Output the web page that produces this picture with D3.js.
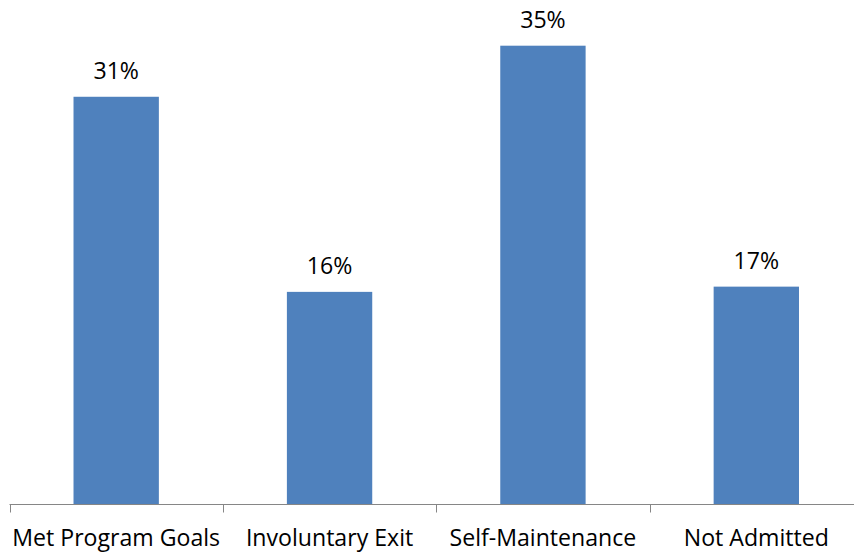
<!DOCTYPE html>
<html>
<head>
<meta charset="utf-8">
<script src="https://cdn.jsdelivr.net/npm/d3@7"></script>
<style>
  html, body { margin: 0; padding: 0; background: #fff; }
  svg { display: block; }
  text { font-family: "Open Sans", Lato, sans-serif; fill: #000; }
</style>
</head>
<body>
<svg id="chart" width="854" height="554"></svg>
<script>
const categories = ["Met Program Goals", "Involuntary Exit", "Self-Maintenance", "Not Admitted"];
const values = [31.1, 16.2, 35.0, 16.6];
const valueLabels = ["31%", "16%", "35%", "17%"];

const svg = d3.select("#chart");
const x = d3.scaleBand().domain(categories).range([9.5, 863]).paddingInner(0.6).paddingOuter(0.3);
const y = d3.scaleLinear().domain([0, 35]).range([504, 45.7]);

// fit font size so the first category label is ~208px wide, like the reference
const probe = svg.append("text").style("font-size", "20px").text(categories[0]);
const w20 = probe.node().getComputedTextLength();
probe.remove();
const fs = Math.min(24, 20 * 208 / w20);

svg.selectAll("rect.bar").data(categories).join("rect")
  .attr("class", "bar")
  .attr("x", d => x(d))
  .attr("width", x.bandwidth())
  .attr("y", (d, i) => y(values[i]))
  .attr("height", (d, i) => y(0) - y(values[i]))
  .attr("fill", "#4F81BD");

svg.selectAll("text.val").data(categories).join("text")
  .attr("class", "val")
  .attr("x", d => x(d) + x.bandwidth() / 2)
  .attr("y", (d, i) => y(values[i]) - 18)
  .attr("text-anchor", "middle")
  .style("font-size", fs + "px")
  .text((d, i) => valueLabels[i]);

// axis
const axisG = svg.append("g").attr("transform", "translate(0,504.5)");
const step = x.step();
const x0 = x.range()[0];
const tickPos = d3.range(categories.length + 1).map(i => x0 + i * step);
axisG.append("line").attr("x1", x0).attr("x2", 863).attr("y1", 0).attr("y2", 0)
  .attr("stroke", "#868686").attr("stroke-width", 1);
axisG.selectAll("line.tick").data(tickPos).join("line")
  .attr("class", "tick")
  .attr("x1", d => Math.round(d) + 0.5).attr("x2", d => Math.round(d) + 0.5)
  .attr("y1", 0).attr("y2", 8)
  .attr("stroke", "#868686");
axisG.selectAll("text.cat").data(categories).join("text")
  .attr("class", "cat")
  .attr("x", d => x(d) + x.bandwidth() / 2)
  .attr("y", 41.5)
  .attr("text-anchor", "middle")
  .style("font-size", fs + "px")
  .text(d => d);
</script>
</body>
</html>
